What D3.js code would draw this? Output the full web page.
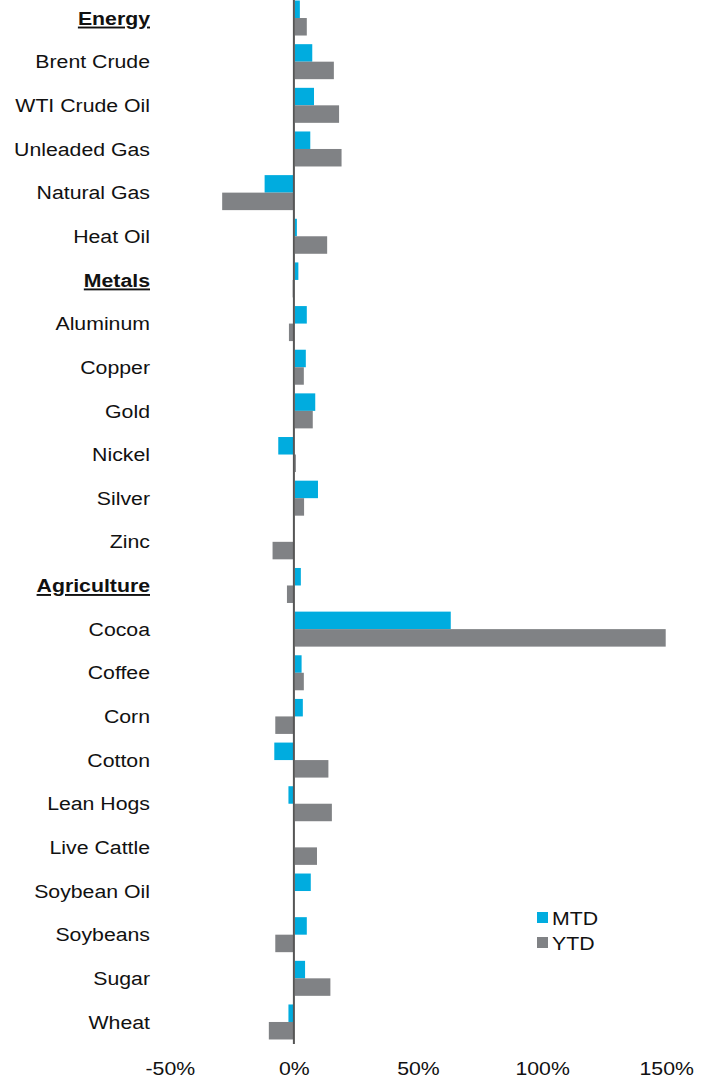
<!DOCTYPE html>
<html>
<head>
<meta charset="utf-8">
<script src="https://cdn.jsdelivr.net/npm/d3@7"></script>
<style>
  body { margin: 0; background: #fff; }
  text { font-family: "Liberation Sans", Arial, sans-serif; fill: #111; font-size: 19px; }
  .header { font-weight: bold; text-decoration: underline; }
</style>
</head>
<body>
<div id="chart"></div>
<script>
// categories, top to bottom (group rows are flagged in headers)
const categories = ["Energy", "Brent Crude", "WTI Crude Oil", "Unleaded Gas", "Natural Gas", "Heat Oil",
  "Metals", "Aluminum", "Copper", "Gold", "Nickel", "Silver", "Zinc",
  "Agriculture", "Cocoa", "Coffee", "Corn", "Cotton", "Lean Hogs", "Live Cattle",
  "Soybean Oil", "Soybeans", "Sugar", "Wheat"];
const headers = ["Energy", "Metals", "Agriculture"];

// returns in %
const mtd = [2.4, 7.4, 8.1, 6.6, -11.8, 1.2,
  1.8, 5.2, 4.8, 8.6, -6.3, 9.7, 0,
  2.8, 63.2, 3.1, 3.6, -7.9, -2.2, 0,
  6.8, 5.2, 4.5, -2.2];
const ytd = [5.2, 16.1, 18.2, 19.2, -28.9, 13.4,
  -0.5, -2.0, 4.0, 7.6, 0.8, 4.1, -8.6,
  -2.8, 149.8, 4.0, -7.5, 13.9, 15.3, 9.3,
  0, -7.5, 14.7, -10.1];

const seriesNames = ["MTD", "YTD"];
const colors = {MTD: "#00ACDF", YTD: "#808285"};
const xTicks = [-50, 0, 50, 100, 150];

const width = 702, height = 1081;
const stretch = 1.12; // text in the source is a bit wider than Arial
const svg = d3.select("#chart").append("svg")
  .attr("width", width).attr("height", height);

let x = d3.scaleLinear().domain([-50, 150]).range([169.8, 666.2]);
let y = d3.scaleBand().domain(categories).range([-3.8, 1043.8]).padding(0);
let ySub = d3.scaleBand().domain(seriesNames).range([0, y.bandwidth()]).paddingOuter(0.247).paddingInner(0);

let rows = categories.map((c, i) => ({cat: c, MTD: mtd[i], YTD: ytd[i]}));

let g = svg.append("g");
rows.forEach(r => {
  seriesNames.forEach(s => {
    let v = r[s];
    if (v === 0) return;
    g.append("rect")
      .attr("x", v > 0 ? x(0) + 1 : x(v))
      .attr("width", Math.abs(x(v) - x(0)) - (v > 0 ? 1 : 0))
      .attr("y", y(r.cat) + ySub(s))
      .attr("height", ySub.bandwidth())
      .attr("fill", colors[s]);
  });
});

// zero line
svg.append("line")
  .attr("x1", x(0)).attr("x2", x(0))
  .attr("y1", 0).attr("y2", 1044)
  .attr("stroke", "#555").attr("stroke-width", 2);

// category labels
svg.selectAll("text.cat")
  .data(categories)
  .enter().append("text")
  .attr("class", d => headers.includes(d) ? "cat header" : "cat")
  .attr("transform", d => `translate(150,${y(d) + y.bandwidth() / 2}) scale(${stretch},1)`)
  .attr("dy", "0.35em")
  .attr("text-anchor", "end")
  .text(d => d);

// x axis labels
let xAxis = d3.axisBottom(x).tickValues(xTicks).tickSize(0).tickFormat(d => d + "%");
let ax = svg.append("g").attr("transform", "translate(0,1059)").call(xAxis);
ax.select(".domain").remove();
ax.selectAll("text")
  .attr("transform", `scale(${stretch},1)`)
  .attr("x", 0)
  .style("font-size", "19px")
  .style("font-family", "'Liberation Sans', Arial, sans-serif").attr("fill", "#111");

// legend
let leg = svg.append("g").attr("transform", "translate(537,912)");
seriesNames.forEach((s, i) => {
  leg.append("rect").attr("x", 0).attr("y", i * 25).attr("width", 11).attr("height", 11)
    .attr("fill", colors[s]);
  leg.append("text")
    .attr("transform", `translate(15,${i * 25 + 6}) scale(${stretch},1)`)
    .attr("dy", "0.35em").text(s);
});
</script>
</body>
</html>
